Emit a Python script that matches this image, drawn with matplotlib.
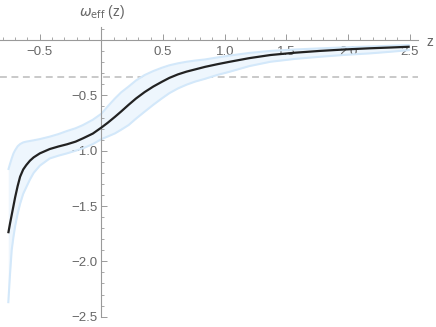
import matplotlib
matplotlib.use("Agg")
import matplotlib.pyplot as plt
from matplotlib.ticker import MultipleLocator, FixedLocator

z = [-0.756, -0.742, -0.728, -0.714, -0.70, -0.68, -0.66, -0.635, -0.61, -0.58, -0.55,
     -0.50, -0.42, -0.35, -0.28, -0.21, -0.15, -0.07, 0.0, 0.05, 0.11, 0.16, 0.22,
     0.28, 0.35, 0.42, 0.49, 0.55, 0.62, 0.69, 0.76, 0.84, 0.94, 1.04, 1.2, 1.37,
     1.57, 1.77, 1.97, 2.18, 2.35, 2.5]
w_mean = [-1.746, -1.66, -1.58, -1.50, -1.42, -1.32, -1.235, -1.17, -1.13, -1.09, -1.06,
          -1.024, -0.985, -0.962, -0.942, -0.918, -0.888, -0.845, -0.79, -0.748, -0.693,
          -0.645, -0.585, -0.528, -0.47, -0.42, -0.377, -0.342, -0.31, -0.285, -0.265,
          -0.242, -0.218, -0.196, -0.163, -0.135, -0.114, -0.098, -0.085, -0.074,
          -0.067, -0.06]
w_upper = [-1.174, -1.12, -1.07, -1.025, -0.995, -0.96, -0.94, -0.925, -0.918, -0.912,
           -0.906, -0.895, -0.873, -0.85, -0.822, -0.797, -0.768, -0.72, -0.665, -0.60,
           -0.527, -0.472, -0.42, -0.365, -0.316, -0.28, -0.25, -0.228, -0.21, -0.196,
           -0.185, -0.175, -0.157, -0.14, -0.116, -0.098, -0.085, -0.075, -0.066,
           -0.058, -0.051, -0.045]
w_lower = [-2.378, -2.12, -1.897, -1.78, -1.68, -1.57, -1.48, -1.39, -1.33, -1.26, -1.2,
           -1.135, -1.07, -1.045, -1.024, -1.0, -0.978, -0.94, -0.895, -0.872, -0.843,
           -0.81, -0.768, -0.71, -0.647, -0.585, -0.527, -0.48, -0.437, -0.403, -0.375,
           -0.35, -0.315, -0.286, -0.235, -0.196, -0.17, -0.151, -0.134, -0.12, -0.105,
           -0.09]
ref_level = -1/3

x_major = [-0.5, 0.5, 1.0, 1.5, 2.0, 2.5]
x_labels = ["\u22120.5", "0.5", "1.0", "1.5", "2.0", "2.5"]
y_major = [-0.5, -1.0, -1.5, -2.0, -2.5]
y_labels = ["\u22120.5", "\u22121.0", "\u22121.5", "\u22122.0", "\u22122.5"]

plt.rcParams['font.family'] = ['Liberation Sans', 'DejaVu Sans']

fig = plt.figure(figsize=(4.36, 3.27), dpi=100)
ax = fig.add_axes([0.0, 0.0306, 0.9587, 0.8864])

ax.fill_between(z, w_lower, w_upper, color="#eef6fd", lw=0, zorder=1)
ax.plot(z, w_upper, color="#d3e8fa", lw=1.5, zorder=2, solid_capstyle="butt")
ax.plot(z, w_lower, color="#d3e8fa", lw=1.5, zorder=2, solid_capstyle="butt")
ax.plot(z, w_mean, color="#222222", lw=1.6, zorder=4, solid_capstyle="butt",
        solid_joinstyle="round")
ax.axhline(ref_level, color="#bbbbbb", lw=1.1, dashes=(4.5, 3), zorder=0.5)

ax.set_xlim(-0.823, 2.567)
ax.set_ylim(-2.503, 0.117)

for s in ["top", "right"]:
    ax.spines[s].set_visible(False)
ax.spines["left"].set_position(("data", 0))
ax.spines["bottom"].set_position(("data", 0))
for s in ["left", "bottom"]:
    ax.spines[s].set_color("#9a9a9a")
    ax.spines[s].set_linewidth(0.8)
    ax.spines[s].set_zorder(2.5)

ax.xaxis.set_major_locator(FixedLocator(x_major))
ax.set_xticklabels(x_labels)
ax.yaxis.set_major_locator(FixedLocator(y_major))
ax.set_yticklabels(y_labels)
ax.xaxis.set_minor_locator(MultipleLocator(0.1))
ax.yaxis.set_minor_locator(MultipleLocator(0.1))
ax.tick_params(which="major", direction="in", length=4.3, width=0.7, color="#9a9a9a",
               labelcolor="#666666", labelsize=9.5, pad=3)
ax.tick_params(which="minor", direction="in", length=2.2, width=0.6, color="#9a9a9a")
ax.tick_params(axis="x", which="major", pad=4)

ax.patch.set_visible(False)

fig.text(0.234, 0.962, r"$\omega_{\mathrm{eff}}$ (z)", ha="center", va="center",
         color="#666666", fontsize=10)
fig.text(0.986, 0.872, "z", ha="center", va="center", color="#666666", fontsize=10)

fig.savefig("out.png", dpi=100)
